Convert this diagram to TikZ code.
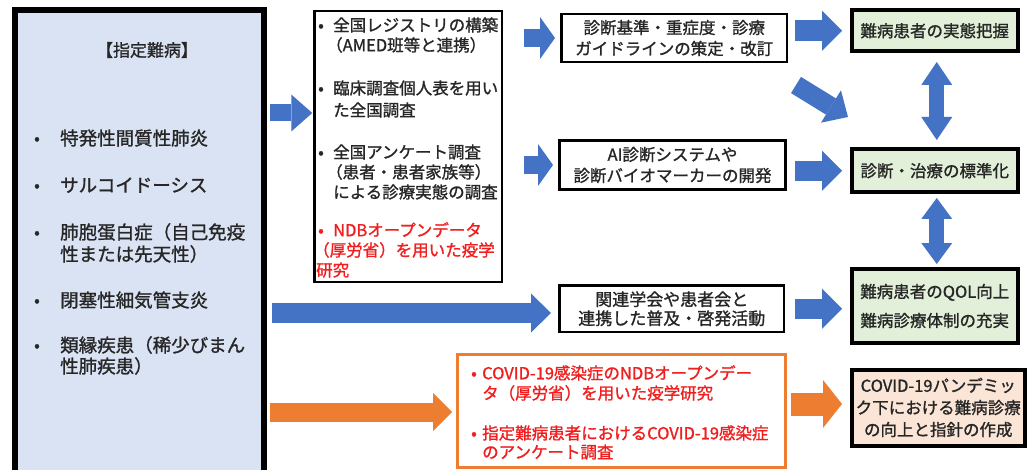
\documentclass[tikz,border=0pt]{standalone}
\usepackage{fontspec}
\setmainfont{Noto Sans CJK JP}[FakeBold=1.2]
\usetikzlibrary{arrows.meta,calc}
\definecolor{ablue}{HTML}{4472C4}
\definecolor{aorange}{HTML}{ED7D31}
\definecolor{lblue}{HTML}{DAE3F3}
\definecolor{lgreen}{HTML}{E2F0D9}
\definecolor{lpeach}{HTML}{FBE5D6}
\definecolor{ink}{HTML}{262626}
\definecolor{tred}{HTML}{F01E1E}
\begin{document}
\begin{tikzpicture}[x=1pt,y=-1pt,
  fs/.style={font=\fontsize{16.5}{21}\selectfont},
  ln/.style={anchor=west, inner sep=0pt, text=ink, fs, text height=14.5pt, text depth=2pt},
  lnbig/.style={ln, font=\fontsize{18.5}{22}\selectfont, text height=16.3pt, text depth=2.2pt},
  bul/.style={anchor=center, inner sep=0pt, text=ink, fs, text height=14.5pt, text depth=2pt},
  redt/.style={text=tred},
  box/.style={draw=black, line width=2.5pt, inner sep=0pt, align=center, text=ink, fs},
  rbox/.style={draw=black, line width=4pt, inner sep=0pt, align=center, text=ink, fs},
]
\useasboundingbox (0,0) rectangle (1032,470);
\fill[white] (0,0) rectangle (1032,470);

% left box
\node[draw=black, line width=6pt, fill=lblue, inner sep=0pt, minimum width=248.5pt, minimum height=470pt] (L) at (139.25,245) {};
\node[anchor=center, inner sep=0pt, text=ink, font=\fontsize{17}{20}\selectfont] (title) at (147,50) {【指定難病】};
\node[bul] (lb1) at (37,138) {•};
\node[bul] (lb2) at (37,185) {•};
\node[bul] (lb3) at (37,232) {•};
\node[bul] (lb4) at (37,300) {•};
\node[bul] (lb5) at (37,345) {•};
\node[lnbig] (l1) at (60,138) {特発性間質性肺炎};
\node[lnbig] (l2) at (60,185) {サルコイドーシス};
\node[lnbig] (l3a) at (60,232) {肺胞蛋白症（自己免疫};
\node[lnbig] (l3b) at (60,254) {性または先天性）};
\node[lnbig] (l4) at (60,300) {閉塞性細気管支炎};
\node[lnbig] (l5a) at (60,345) {類縁疾患（稀少びまん};
\node[lnbig] (l5b) at (60,366) {性肺疾患）};

% middle box
\node[box, minimum width=187.5pt, minimum height=271pt] (M) at (408.25,146.5) {};
\node[bul] (mb1) at (321,25) {•};
\node[bul] (mb2) at (321,88) {•};
\node[bul] (mb3) at (321,152) {•};
\node[bul, redt] (mb4) at (321,230) {•};
\node[ln] (m1a) at (333,25) {全国レジストリの構築};
\node[ln] (m1b) at (326,45) {（AMED班等と連携）};
\node[ln] (m2a) at (333,88) {臨床調査個人表を用い};
\node[ln] (m2b) at (333,110) {た全国調査};
\node[ln] (m3a) at (333,152) {全国アンケート調査};
\node[ln] (m3b) at (326,172) {（患者・患者家族等）};
\node[ln] (m3c) at (333,192) {による診療実態の調査};
\node[ln, redt] (m4a) at (333,230) {NDBオープンデータ};
\node[ln, redt] (m4b) at (313,250) {（厚労省）を用いた疫学};
\node[ln, redt] (m4c) at (316,270) {研究};

% third column boxes
\node[box, minimum width=225.5pt, minimum height=48pt, font=\fontsize{16.5}{21}\selectfont] (b2) at (674.25,38) {診断基準・重症度・診療\\ガイドラインの策定・改訂};
\node[box, minimum width=226pt, minimum height=49pt, font=\fontsize{16.5}{21}\selectfont] (b3) at (672.5,165) {AI診断システムや\\診断バイオマーカーの開発};
\node[box, minimum width=224.5pt, minimum height=46.5pt, font=\fontsize{17}{19}\selectfont] (E) at (671.75,308.75) {関連学会や患者会と\\連携した普及・啓発活動};

% orange box
\node[draw=aorange, line width=3pt, inner sep=0pt, minimum width=327.5pt, minimum height=113pt] (F) at (621.25,411) {};
\node[bul, redt] (fb1) at (474,373) {•};
\node[bul, redt] (fb2) at (474,433) {•};
\node[ln, redt] (f1a) at (482,373) {COVID-19感染症のNDBオープンデー};
\node[ln, redt] (f1b) at (482,393) {タ（厚労省）を用いた疫学研究};
\node[ln, redt] (f2a) at (482,433) {指定難病患者におけるCOVID-19感染症};
\node[ln, redt] (f2b) at (482,452) {のアンケート調査};

% right column
\node[rbox, fill=lgreen, minimum width=166.5pt, minimum height=40.5pt] (A) at (934.75,30.75) {難病患者の実態把握};
\node[rbox, fill=lgreen, minimum width=166.5pt, minimum height=43.5pt] (B) at (934.75,170.75) {診断・治療の標準化};
\node[rbox, fill=lgreen, minimum width=166.5pt, minimum height=74pt, font=\fontsize{16.5}{29}\selectfont] (C) at (934.75,306) {難病患者のQOL向上\\難病診療体制の充実};
\node[rbox, fill=lpeach, minimum width=173.5pt, minimum height=76pt, font=\fontsize{16.5}{22}\selectfont] (D) at (938.25,407.5) {COVID-19パンデミッ\\ク下における難病診療\\の向上と指針の作成};

% arrows
\coordinate (a1s) at (270,113);
\draw[ablue, line width=17pt, -{Triangle[length=21pt,width=37pt,line width=0pt]}, shorten >=1pt] (a1s) -- (a1s -| M.west);
\draw[ablue, line width=18pt, -{Triangle[length=15pt,width=42pt,line width=0pt]}, shorten <=20.75pt, shorten >=5.25pt] (M.east |- b2.west) -- (b2.west);
\draw[ablue, line width=18pt, -{Triangle[length=15pt,width=42pt,line width=0pt]}, shorten <=20.75pt, shorten >=5.25pt] (M.east |- b3.west) -- (b3.west);
\draw[ablue, line width=21pt, -{Triangle[length=20pt,width=40pt,line width=0pt]}, shorten <=6.75pt, shorten >=7.5pt] (b2.east |- A.west) -- (A.west);
\draw[ablue, line width=20pt, -{Triangle[length=20pt,width=40pt,line width=0pt]}, shorten <=8.25pt, shorten >=7.5pt] (b3.east |- B.west) -- (B.west);
\draw[ablue, line width=20pt, -{Triangle[length=20pt,width=40pt,line width=0pt]}, shorten <=9.75pt, shorten >=7.5pt] (E.east) -- (E.east -| C.west);
\coordinate (dg) at (796,85);
\coordinate (dgt) at (848,117);
\draw[ablue, line width=19pt, -{Triangle[length=20pt,width=38pt,line width=0pt]}] (dg) -- (dgt);
\coordinate (lbs) at (272,313);
\draw[ablue, line width=20pt, -{Triangle[length=20pt,width=39pt,line width=0pt]}, shorten >=7.25pt] (lbs) -- (lbs -| E.west);
\coordinate (los) at (270,412);
\draw[aorange, line width=19pt, -{Triangle[length=19pt,width=38pt,line width=0pt]}, shorten >=4pt] (los) -- (los -| F.west);
\coordinate (ods) at (791,404);
\draw[aorange, line width=23pt, -{Triangle[length=19pt,width=48pt,line width=0pt]}, shorten >=7.5pt] (ods) -- (ods -| D.west);
\draw[ablue, line width=15pt, {Triangle[length=23pt,width=31pt,line width=0pt]}-{Triangle[length=23pt,width=31pt,line width=0pt]}, shorten <=9pt, shorten >=7pt] ([xshift=2pt]A.south) -- ([xshift=2pt]B.north);
\draw[ablue, line width=15pt, {Triangle[length=21pt,width=31pt,line width=0pt]}-{Triangle[length=21pt,width=31pt,line width=0pt]}, shorten <=3.5pt, shorten >=3pt] ([xshift=2pt]B.south) -- ([xshift=2pt]C.north);
\end{tikzpicture}
\end{document}
